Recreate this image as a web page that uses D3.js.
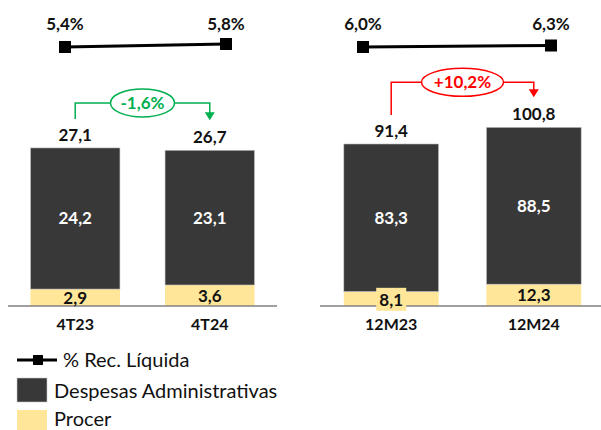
<!DOCTYPE html>
<html>
<head>
<meta charset="utf-8">
<script src="https://cdn.jsdelivr.net/npm/d3@7"></script>
<style>
  body { margin: 0; background: #fff; }
  svg { display: block; font-family: Lato, "Open Sans", sans-serif; }
</style>
</head>
<body>
<div id="container"></div>
<script>
// data
const periods = [["4T23", "4T24"], ["12M23", "12M24"]]
const despesas = [[24.2, 23.1], [83.3, 88.5]]
const procer = [[2.9, 3.6], [8.1, 12.3]]
const pctRec = [[5.4, 5.8], [6.0, 6.3]]
const variation = ["-1,6%", "+10,2%"]

const fmt = v => v.toFixed(1).replace(".", ",")

const W = 601, H = 430
const base = 306

const svg = d3.select("#container")
    .append("svg")
    .attr("width", W)
    .attr("height", H)

// each panel: where it sits, how tall the bars go
const panels = [
    { xr: [8, 277], axisEnd: 277, lineR: [65, 226], yMax: 30, yTop: 131, rise: 3, color: "#00b050" },
    { xr: [320, 605], axisEnd: 601, lineR: [363, 551], yMax: 110, yTop: 111, rise: 1.5, color: "#ff0000" }
]

panels.forEach((p, i) => {
    const cats = periods[i]
    const x = d3.scaleBand().domain(cats).range(p.xr).paddingInner(0.335).paddingOuter(0.167)
    const y = d3.scaleLinear().domain([0, p.yMax]).range([base, p.yTop])
    const xl = d3.scalePoint().domain(cats).range(p.lineR)
    const yl = d3.scaleLinear().domain(d3.extent(pctRec[i])).range([47, 47 - p.rise])

    const rows = cats.map((c, j) => ({
        cat: c, desp: despesas[i][j], proc: procer[i][j], pct: pctRec[i][j],
        total: despesas[i][j] + procer[i][j]
    }))

    const g = svg.append("g")

    // procer segment
    g.selectAll("rect.proc").data(rows).enter().append("rect")
        .attr("class", "proc")
        .attr("x", d => x(d.cat))
        .attr("width", x.bandwidth())
        .attr("y", d => y(d.proc))
        .attr("height", d => base - y(d.proc))
        .attr("fill", "#ffe699")

    // despesas segment
    g.selectAll("rect.desp").data(rows).enter().append("rect")
        .attr("class", "desp")
        .attr("x", d => x(d.cat))
        .attr("width", x.bandwidth())
        .attr("y", d => y(d.total))
        .attr("height", d => y(d.proc) - y(d.total))
        .attr("fill", "#383838")
        .attr("stroke", "#c8c8c8")
        .attr("stroke-width", 0.6)

    // axis line
    g.append("line")
        .attr("x1", p.xr[0]).attr("x2", p.axisEnd)
        .attr("y1", base).attr("y2", base)
        .attr("stroke", "#808080").attr("stroke-width", 1.5)

    // despesas labels
    g.selectAll("text.desp").data(rows).enter().append("text")
        .attr("x", d => x(d.cat) + x.bandwidth() / 2)
        .attr("y", d => (y(d.proc) + y(d.total)) / 2)
        .attr("dy", "0.35em")
        .attr("text-anchor", "middle")
        .attr("fill", "#fff")
        .attr("font-weight", "bold")
        .attr("font-size", 17)
        .text(d => fmt(d.desp))

    // procer labels (small segment gets a box behind)
    rows.forEach(d => {
        const cx = x(d.cat) + x.bandwidth() / 2
        const cy = (base + y(d.proc)) / 2
        const h = base - y(d.proc)
        if (h < 16) {
            g.append("rect")
                .attr("x", cx - 15).attr("y", cy - 11)
                .attr("width", 30).attr("height", 23)
                .attr("fill", "#ffe699")
        }
        g.append("text")
            .attr("x", cx)
            .attr("y", h < 16 ? cy + 1 : cy)
            .attr("dy", "0.36em")
            .attr("text-anchor", "middle")
            .attr("fill", "#111")
            .attr("font-weight", "bold")
            .attr("font-size", 17)
            .text(fmt(d.proc))
    })

    // totals
    g.selectAll("text.total").data(rows).enter().append("text")
        .attr("x", d => x(d.cat) + x.bandwidth() / 2)
        .attr("y", d => y(d.total) - 7)
        .attr("text-anchor", "middle")
        .attr("fill", "#111")
        .attr("font-weight", "bold")
        .attr("font-size", 17)
        .text(d => fmt(d.total))

    // categories
    g.selectAll("text.cat").data(rows).enter().append("text")
        .attr("x", d => x(d.cat) + x.bandwidth() / 2)
        .attr("y", 330)
        .attr("text-anchor", "middle")
        .attr("fill", "#111")
        .attr("font-weight", "bold")
        .attr("font-size", 16)
        .text(d => d.cat)

    // % rec. liquida line
    g.append("path")
        .datum(rows)
        .attr("fill", "none")
        .attr("stroke", "#000")
        .attr("stroke-width", 3)
        .attr("d", d3.line().x(d => xl(d.cat)).y(d => yl(d.pct)))

    g.selectAll("rect.mk").data(rows).enter().append("rect")
        .attr("x", d => xl(d.cat) - 6)
        .attr("y", d => yl(d.pct) - 6)
        .attr("width", 12).attr("height", 12)
        .attr("fill", "#000")

    g.selectAll("text.pct").data(rows).enter().append("text")
        .attr("x", d => xl(d.cat))
        .attr("y", 30)
        .attr("text-anchor", "middle")
        .attr("fill", "#111")
        .attr("font-weight", "bold")
        .attr("font-size", 17)
        .text(d => fmt(d.pct) + "%")

    // variation bracket
    const x1 = x(cats[0]) + x.bandwidth() / 2
    const x2 = x(cats[1]) + x.bandwidth() / 2
    const t1 = y(rows[0].total), t2 = y(rows[1].total)
    const yH = Math.min(t1, t2) - 45
    const tip = t2 - 30
    g.append("path")
        .attr("fill", "none")
        .attr("stroke", p.color)
        .attr("stroke-width", 1.5)
        .attr("d", `M${x1},${t1 - 29}V${yH}H${x2}V${tip - 7}`)
    g.append("path")
        .attr("fill", p.color)
        .attr("d", `M${x2 - 5},${tip - 8}L${x2 + 5},${tip - 8}L${x2},${tip}Z`)

    const cx = (x1 + x2) / 2
    const rx = i === 0 ? 32 : 41
    g.append("ellipse")
        .attr("cx", cx).attr("cy", yH)
        .attr("rx", rx).attr("ry", 14)
        .attr("fill", "#fff")
        .attr("stroke", p.color)
        .attr("stroke-width", 1.5)
    g.append("text")
        .attr("x", cx).attr("y", yH)
        .attr("dy", "0.36em")
        .attr("text-anchor", "middle")
        .attr("fill", p.color)
        .attr("font-weight", "bold")
        .attr("font-size", 17)
        .text(variation[i])
})

// legend
const leg = svg.append("g").attr("font-size", 20).attr("fill", "#111")
leg.append("line").attr("x1", 17).attr("x2", 57).attr("y1", 360).attr("y2", 360)
    .attr("stroke", "#000").attr("stroke-width", 3)
leg.append("rect").attr("x", 33).attr("y", 355).attr("width", 10).attr("height", 10).attr("fill", "#000")
leg.append("text").attr("x", 63).attr("y", 367).text("% Rec. Líquida")

leg.append("rect").attr("x", 17).attr("y", 378).attr("width", 30).attr("height", 24)
    .attr("fill", "#383838").attr("stroke", "#c8c8c8").attr("stroke-width", 0.6)
leg.append("text").attr("x", 54).attr("y", 398).text("Despesas Administrativas")

leg.append("rect").attr("x", 17).attr("y", 410).attr("width", 30).attr("height", 24).attr("fill", "#ffe699")
leg.append("text").attr("x", 54).attr("y", 426).text("Procer")
</script>
</body>
</html>
